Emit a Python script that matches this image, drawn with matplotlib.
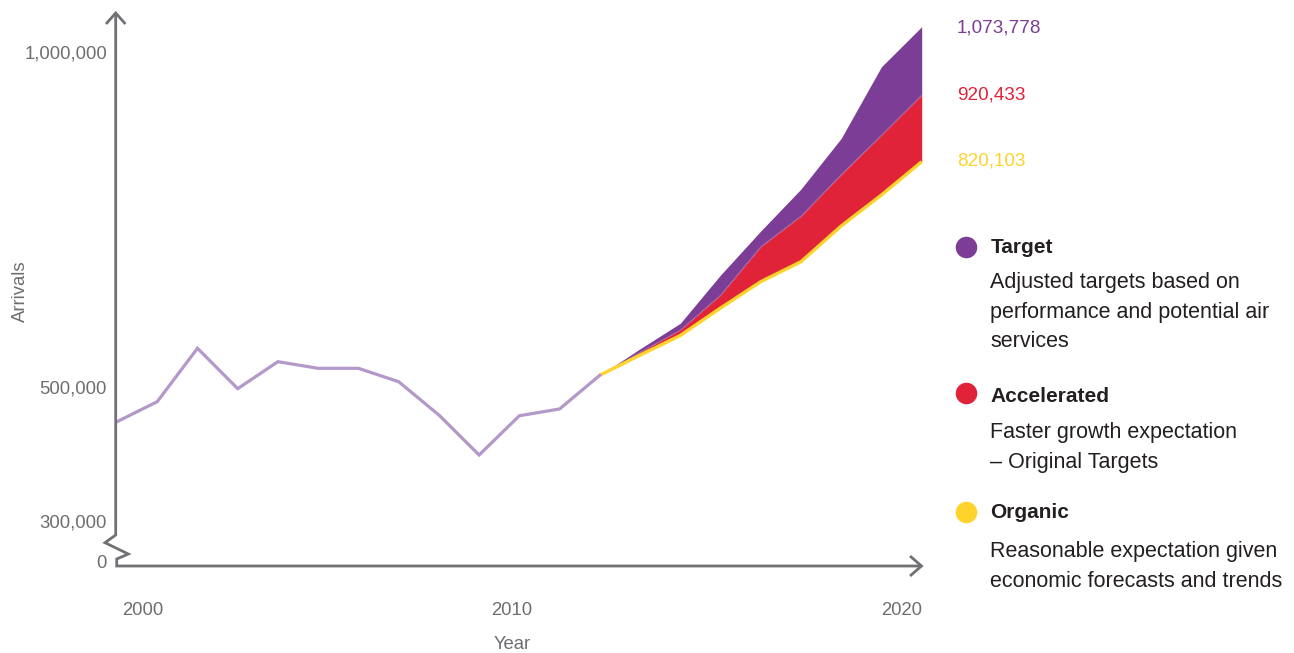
import matplotlib
matplotlib.use("Agg")
import matplotlib.pyplot as plt
from matplotlib.lines import Line2D

plt.rcParams['font.family'] = ['Liberation Sans', 'DejaVu Sans']

# ---------------- data ----------------
hist_years = [2000, 2001, 2002, 2003, 2004, 2005, 2006, 2007, 2008, 2009, 2010, 2011, 2012]
hist_arrivals = [447600, 477500, 557200, 496900, 537200, 527300, 527300, 507300,
                 457600, 397900, 456500, 466600, 516900]

fc_years = [2012, 2013, 2014, 2015, 2016, 2017, 2018, 2019, 2020]
organic = [516900, 547000, 576300, 617300, 656600, 686500, 739800, 786100, 835800]
accelerated = [516900, 551400, 584500, 636700, 708900, 754700, 816700, 875600, 935400]
target = [516900, 556400, 594500, 666600, 732300, 795000, 870700, 977600, 1037300]

end_labels = ["1,073,778", "920,433", "820,103"]
ytick_vals = [300000, 500000, 1000000]
ytick_labels = ["300,000", "500,000", "1,000,000"]
xtick_labels = ["2000", "2010", "2020"]

legend_titles = ["Target", "Accelerated", "Organic"]
legend_desc = [["Adjusted targets based on", "performance and potential air", "services"],
               ["Faster growth expectation", "\u2013 Original Targets"],
               ["Reasonable expectation given", "economic forecasts and trends"]]

# ---------------- style ----------------
C_PURPLE = "#7b3d96"
C_RED = "#e1233a"
C_YEL = "#fed42c"
C_HIST = "#b398c9"
C_AXIS = "#707174"
C_TICK = "#6d6e71"
C_DARK = "#231f20"

W, H = 1294, 653
fig = plt.figure(figsize=(W / 100, H / 100), dpi=100)

def P(x, y):
    return (x / W, 1 - y / H)

ax = fig.add_axes([116 / W, (H - 566) / H, (921.7 - 116) / W, (566 - 12.7) / H])
ax.set_xlim(2000 - 1 / 40.235, 2020)
ax.set_ylim(232150, 1058230)
for s in ax.spines.values():
    s.set_visible(False)
ax.set_xticks([])
ax.set_yticks([])

# forecasts
ax.fill_between(fc_years, accelerated, target, color=C_PURPLE, lw=0)
ax.fill_between(fc_years, organic, accelerated, color=C_RED, lw=0)
ax.plot(fc_years, accelerated, color="#b07ab8", lw=0.4)
ax.plot(fc_years, organic, color=C_YEL, lw=2.4, solid_capstyle='butt', clip_on=False)
ax.plot(hist_years, hist_arrivals, color=C_HIST, lw=2.3, clip_on=False,
        solid_joinstyle='miter')

# axes lines (decoration) in figure pixel coordinates
def fline(pts, **kw):
    xs = [P(x, y)[0] for x, y in pts]
    ys = [P(x, y)[1] for x, y in pts]
    fig.add_artist(Line2D(xs, ys, transform=fig.transFigure, **kw))

ax_kw = dict(color=C_AXIS, lw=2.0, solid_joinstyle='miter', solid_capstyle='butt')
fline([(115.7, 13.5), (115.7, 535), (105, 542.7), (128.3, 554), (116.7, 559),
       (116.7, 566), (921.7, 566)], **ax_kw)
fline([(106, 24), (115.7, 13), (125.4, 24)], **ax_kw)
fline([(910, 556), (921.5, 566), (910, 576)], **ax_kw)

FS = 13.3
LFS = 15.0
DFS = 15.5

# y tick labels
for v, lab in zip(ytick_vals, ytick_labels):
    ypix = 51.7 + (1000000 - v) / 1493
    fig.text(*P(107, ypix + 6.5), lab, ha='right', va='baseline', fontsize=FS, color=C_TICK)
fig.text(*P(107, 568.3), "0", ha='right', va='baseline', fontsize=FS, color=C_TICK)

# x tick labels
fig.text(*P(143, 615), xtick_labels[0], ha='center', va='baseline', fontsize=FS, color=C_TICK)
fig.text(*P(512, 615), xtick_labels[1], ha='center', va='baseline', fontsize=FS, color=C_TICK)
fig.text(*P(921.7, 615), xtick_labels[2], ha='right', va='baseline', fontsize=FS, color=C_TICK)

# axis titles
fig.text(*P(512.5, 649), "Year", ha='center', va='baseline', fontsize=FS, color=C_TICK)
fig.text(*P(25, 291), "Arrivals", ha='center', va='baseline', rotation=90,
         rotation_mode='anchor', fontsize=FS, color=C_TICK)

# end value labels
for lab, yb, c in zip(end_labels, [32.7, 99.3, 166], [C_PURPLE, C_RED, C_YEL]):
    fig.text(*P(956.7, yb), lab, ha='left', va='baseline', fontsize=13.6, color=c)

# legend
title_base = [253.3, 401.7, 518.3]
dot_y = [246.7, 393.3, 511.7]
desc_base = [[288.3, 317.8, 347.3], [438.3, 468.3], [556.7, 586.7]]
for t, tb, dy, descs, dbs, c in zip(legend_titles, title_base, dot_y, legend_desc,
                                    desc_base, [C_PURPLE, C_RED, C_YEL]):
    fig.add_artist(Line2D([P(966, dy)[0]], [P(966, dy)[1]], transform=fig.transFigure,
                          marker='o', markersize=14.5, color=c, lw=0))
    fig.text(*P(990.5, tb), t, ha='left', va='baseline', fontsize=LFS,
             fontweight='bold', color=C_DARK)
    for d, b in zip(descs, dbs):
        fig.text(*P(990.5, b), d, ha='left', va='baseline', fontsize=DFS, color=C_DARK)

fig.savefig("out.png", dpi=100)
